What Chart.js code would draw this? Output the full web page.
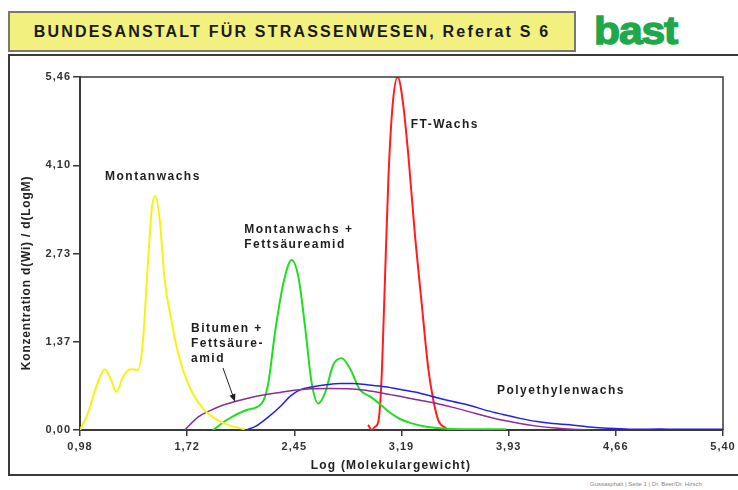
<!DOCTYPE html>
<html>
<head>
<meta charset="utf-8">
<script src="https://cdn.jsdelivr.net/npm/chart.js"></script>
<style>
  body { margin: 0; width: 738px; height: 490px; background: #fff; overflow: hidden; position: relative; font-family: "Liberation Sans", Arial, sans-serif; }
  #head { position: absolute; left: 8px; top: 11px; width: 564px; height: 37px; background: #f2f07e; border: 2px solid #7a7a6a;
          font-weight: bold; font-size: 16px; letter-spacing: 2.2px; line-height: 37px; text-align: center; color: #1a1a1a; }
  #logo { position: absolute; left: 594px; top: 10px; font-weight: bold; font-size: 38px; letter-spacing: -1px; color: #1ea84a;
          -webkit-text-stroke: 1.4px #1ea84a; transform: scaleX(1.12); transform-origin: left top; }
  #frame { position: absolute; left: 8px; top: 54px; width: 740px; height: 418px; border: 2px solid #3a3a3a; }
  #foot { position: absolute; left: 590px; top: 481px; font-size: 6px; color: #888; white-space: nowrap; }
  canvas { position: absolute; left: 0; top: 0; }
</style>
</head>
<body>
<div id="head">BUNDESANSTALT FÜR STRASSENWESEN, Referat S 6</div>
<div id="logo">bast</div>
<div id="frame"></div>
<div id="foot">Gussasphalt | Seite 1 | Dr. Beer/Dr. Hirsch</div>
<canvas id="chart" width="738" height="490"></canvas>
<script>
// axis ticks
const xTicks = [0.98, 1.7167, 2.4533, 3.19, 3.9267, 4.6633, 5.40];
const xTickLabels = ['0,98', '1,72', '2,45', '3,19', '3,93', '4,66', '5,40'];
const yTicks = [0, 1.365, 2.73, 4.095, 5.46];
const yTickLabels = ['0,00', '1,37', '2,73', '4,10', '5,46'];

// Montanwachs (yellow)
const montanX = [0.98, 1.035, 1.092, 1.15, 1.195, 1.23, 1.276, 1.322, 1.379, 1.413, 1.447, 1.475, 1.498, 1.528, 1.562, 1.608, 1.654, 1.722, 1.814, 1.906, 1.997, 2.112];
const montanY = [0, 0.26, 0.67, 0.94, 0.77, 0.59, 0.82, 0.94, 0.93, 1.39, 2.58, 3.45, 3.62, 3.25, 2.32, 1.70, 1.19, 0.72, 0.36, 0.18, 0.08, 0.01];

// Montanwachs + Fettsäureamid (green)
const montanAmidX = [1.894, 2.0, 2.126, 2.229, 2.274, 2.32, 2.378, 2.435, 2.481, 2.527, 2.573, 2.618, 2.664, 2.721, 2.779, 2.836, 2.905, 2.973, 3.042, 3.11, 3.18, 3.25, 3.36, 3.50, 3.70, 3.91];
const montanAmidY = [0, 0.17, 0.31, 0.41, 0.72, 1.50, 2.27, 2.63, 2.37, 1.60, 0.72, 0.41, 0.57, 1.01, 1.11, 0.95, 0.62, 0.52, 0.40, 0.27, 0.17, 0.11, 0.05, 0.02, 0.01, 0.01];

// FT-Wachs (red)
const ftX = [2.96, 2.987, 3.007, 3.03, 3.052, 3.073, 3.1, 3.13, 3.164, 3.198, 3.237, 3.283, 3.329, 3.374, 3.409, 3.443, 3.50];
const ftY = [0.08, 0, 0.05, 0.12, 0.75, 2.1, 3.9, 5.05, 5.46, 5.10, 4.25, 3.0, 1.95, 0.95, 0.46, 0.15, 0.02];

// Bitumen + Fettsäureamid (purple)
const bitumenX = [1.70, 1.791, 1.874, 1.956, 2.045, 2.149, 2.238, 2.355, 2.472, 2.699, 2.925, 3.063, 3.20, 3.317, 3.434, 3.544, 3.661, 3.778, 3.888, 4.005, 4.122, 4.246, 4.363, 4.486];
const bitumenY = [0, 0.20, 0.30, 0.38, 0.44, 0.50, 0.54, 0.58, 0.62, 0.64, 0.62, 0.57, 0.51, 0.46, 0.41, 0.35, 0.28, 0.21, 0.15, 0.10, 0.06, 0.03, 0.01, 0];

// Polyethylenwachs (blue)
const polyX = [2.123, 2.190, 2.263, 2.355, 2.424, 2.492, 2.582, 2.671, 2.767, 2.857, 2.953, 3.077, 3.20, 3.317, 3.434, 3.544, 3.661, 3.778, 3.888, 4.005, 4.122, 4.231, 4.348, 4.465, 4.575, 4.692, 4.809, 4.967, 5.104, 5.242, 5.40];
const polyY = [0, 0.06, 0.18, 0.36, 0.52, 0.62, 0.67, 0.70, 0.72, 0.72, 0.70, 0.67, 0.62, 0.57, 0.50, 0.44, 0.38, 0.30, 0.24, 0.18, 0.13, 0.10, 0.08, 0.05, 0.03, 0.02, 0.01, 0.015, 0.01, 0.012, 0.01];

const zip = (xs, ys) => xs.map((x, i) => ({ x: x, y: ys[i] }));

const FONT = '"Liberation Sans", Arial, sans-serif';

const notes = [
  { text: 'Montanwachs', x: 1.152, y: 3.87 },
  { text: 'Montanwachs +', x: 2.109, y: 3.05 },
  { text: 'Fettsäureamid', x: 2.109, y: 2.815 },
  { text: 'Bitumen +', x: 1.743, y: 1.516 },
  { text: 'Fettsäure-', x: 1.743, y: 1.289 },
  { text: 'amid', x: 1.743, y: 1.056 },
  { text: 'FT-Wachs', x: 3.253, y: 4.67 },
  { text: 'Polyethylenwachs', x: 3.846, y: 0.56 }
];

const decor = {
  id: 'decor',
  beforeDraw(chart) {
    chart.ctx.letterSpacing = '1px';
  },
  afterDatasetsDraw(chart) {
    const { ctx, chartArea: a, scales: { x, y } } = chart;
    ctx.save();
    // box top + right
    ctx.strokeStyle = '#3a3a3a';
    ctx.lineWidth = 1.5;
    ctx.beginPath();
    ctx.moveTo(a.left, a.top);
    ctx.lineTo(a.right, a.top);
    ctx.lineTo(a.right, a.bottom);
    ctx.stroke();

    ctx.fillStyle = '#1e1e1e';
    ctx.font = 'bold 12px ' + FONT;
    ctx.letterSpacing = '1.5px';
    ctx.textBaseline = 'alphabetic';
    ctx.textAlign = 'left';
    notes.forEach(n => ctx.fillText(n.text, x.getPixelForValue(n.x), y.getPixelForValue(n.y)));

    // arrow
    const x0 = x.getPixelForValue(1.963), y0 = y.getPixelForValue(0.96);
    const x1 = x.getPixelForValue(2.045), y1 = y.getPixelForValue(0.44);
    ctx.strokeStyle = '#222';
    ctx.lineWidth = 1;
    ctx.beginPath();
    ctx.moveTo(x0, y0);
    ctx.lineTo(x1, y1);
    ctx.stroke();
    const ang = Math.atan2(y1 - y0, x1 - x0);
    ctx.beginPath();
    ctx.moveTo(x1, y1);
    ctx.lineTo(x1 - 8 * Math.cos(ang - 0.4), y1 - 8 * Math.sin(ang - 0.4));
    ctx.lineTo(x1 - 8 * Math.cos(ang + 0.4), y1 - 8 * Math.sin(ang + 0.4));
    ctx.closePath();
    ctx.fill();

    // axis titles
    ctx.fillStyle = '#222';
    ctx.letterSpacing = '1.2px';
    ctx.textAlign = 'center';
    ctx.textBaseline = 'middle';
    ctx.fillText('Log (Molekulargewicht)', 391, 466);
    ctx.translate(27, 273);
    ctx.rotate(-Math.PI / 2);
    ctx.letterSpacing = '0.8px';
    ctx.fillText('Konzentration d(Wi) / d(LogM)', 0, 0);
    ctx.restore();
  }
};

new Chart(document.getElementById('chart'), {
  type: 'line',
  data: {
    datasets: [
      { label: 'Montanwachs', data: zip(montanX, montanY), borderColor: '#f4f414', borderWidth: 2 },
      { label: 'Bitumen + Fettsäureamid', data: zip(bitumenX, bitumenY), borderColor: '#8a2c9c', borderWidth: 1.5 },
      { label: 'Polyethylenwachs', data: zip(polyX, polyY), borderColor: '#2222e6', borderWidth: 1.5 },
      { label: 'Montanwachs + Fettsäureamid', data: zip(montanAmidX, montanAmidY), borderColor: '#22dd22', borderWidth: 2 },
      { label: 'FT-Wachs', data: zip(ftX, ftY), borderColor: '#ff1e1e', borderWidth: 2 }
    ]
  },
  options: {
    responsive: false,
    animation: false,
    layout: { padding: { left: 0, top: 77, right: 15, bottom: 10 } },
    elements: {
      point: { radius: 0 },
      line: { cubicInterpolationMode: 'monotone', fill: false }
    },
    plugins: { legend: { display: false }, tooltip: { enabled: false } },
    scales: {
      x: {
        type: 'linear',
        min: 0.98,
        max: 5.40,
        afterBuildTicks: s => { s.ticks = xTicks.map(v => ({ value: v })); },
        afterFit: s => { s.height = 50; },
        grid: { drawOnChartArea: false, drawTicks: true, tickLength: 6, color: '#3a3a3a', lineWidth: 1.5 },
        border: { display: true, color: '#3a3a3a', width: 2 },
        ticks: { callback: (v, i) => xTickLabels[i], font: { family: FONT, size: 11, weight: 'bold' }, color: '#333', padding: 4, maxRotation: 0 }
      },
      y: {
        type: 'linear',
        min: 0,
        max: 5.46,
        afterBuildTicks: s => { s.ticks = yTicks.map(v => ({ value: v })); },
        afterFit: s => { s.width = 80; },
        grid: { drawOnChartArea: false, drawTicks: true, tickLength: 7, color: '#3a3a3a', lineWidth: 1.5 },
        border: { display: true, color: '#3a3a3a', width: 2 },
        ticks: { callback: (v, i) => yTickLabels[i], font: { family: FONT, size: 11, weight: 'bold' }, color: '#333', padding: 2 }
      }
    }
  },
  plugins: [decor]
});
</script>
</body>
</html>
